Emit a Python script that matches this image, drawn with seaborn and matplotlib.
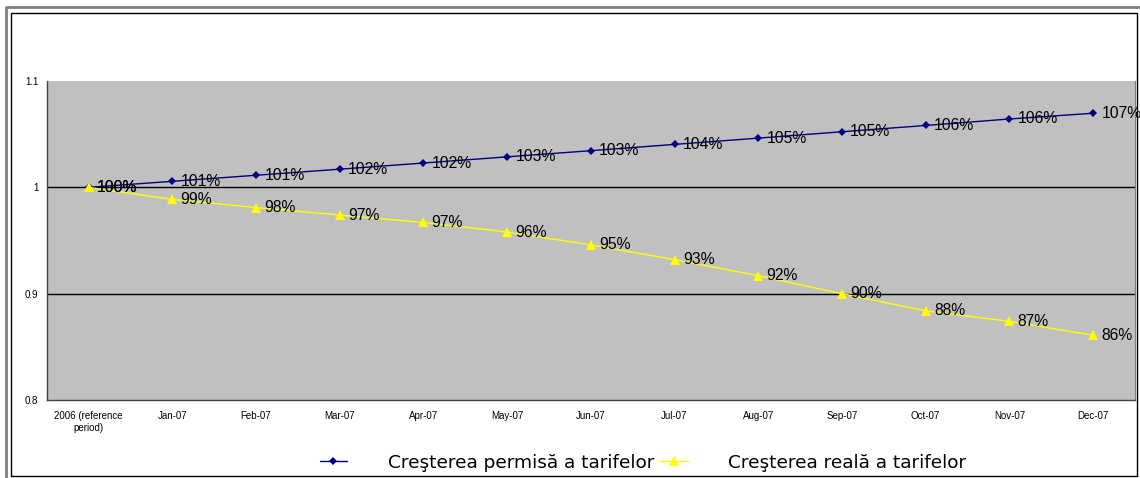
import matplotlib
matplotlib.use('Agg')
import matplotlib.pyplot as plt
import numpy as np
import pandas as pd
import seaborn as sns
from matplotlib.patches import Rectangle
from matplotlib.lines import Line2D

months = ['2006 (reference\nperiod)', 'Jan-07', 'Feb-07', 'Mar-07', 'Apr-07', 'May-07', 'Jun-07',
          'Jul-07', 'Aug-07', 'Sep-07', 'Oct-07', 'Nov-07', 'Dec-07']
permisa = [1.0, 1.0057, 1.0114, 1.0171, 1.0229, 1.0287, 1.0345, 1.0404, 1.0463, 1.0523, 1.0582, 1.0643, 1.0697]
reala = [1.0, 0.9887, 0.981, 0.974, 0.967, 0.958, 0.946, 0.932, 0.917, 0.900, 0.884, 0.874, 0.861]
name_p = 'Creşterea permisă a tarifelor'
name_r = 'Creşterea reală a tarifelor'

df = pd.concat([
    pd.DataFrame({'pos': range(len(months)), 'val': permisa, 'serie': name_p}),
    pd.DataFrame({'pos': range(len(months)), 'val': reala, 'serie': name_r}),
])

sns.set_style('white')
plt.rcParams['font.family'] = ['Liberation Sans', 'DejaVu Sans']
plt.rcParams['text.color'] = 'black'
plt.rcParams['xtick.color'] = 'black'
plt.rcParams['ytick.color'] = 'black'

fig = plt.figure(figsize=(11.4, 4.78), dpi=100)
ax = fig.add_axes([0.041, 0.163, 0.9545, 0.6675])
ax.set_facecolor('#C0C0C0')

sns.lineplot(data=df, x='pos', y='val', hue='serie', style='serie',
             palette={name_p: '#000080', name_r: '#FFFF00'},
             markers={name_p: 'D', name_r: '^'}, dashes=False,
             markersize=5, markeredgewidth=0, linewidth=1, ax=ax, zorder=3)
# triangles a bit bigger than the diamonds
for ln in ax.lines:
    if ln.get_marker() == '^':
        ln.set_markersize(7)
    elif ln.get_marker() == 'D':
        ln.set_markersize(4.5)

# data labels
for i, v in enumerate(permisa):
    ax.annotate(f'{v:.0%}', (i, v), xytext=(6, 0), textcoords='offset points',
                va='center', ha='left', fontsize=11.3, zorder=4)
for i, v in enumerate(reala):
    ax.annotate(f'{v:.0%}', (i, v), xytext=(6, 0), textcoords='offset points',
                va='center', ha='left', fontsize=11.3, zorder=4)

ax.set_ylim(0.8, 1.1)
ax.set_yticks([0.8, 0.9, 1.0, 1.1])
ax.set_yticklabels(['0.8', '0.9', '1', '1.1'], fontsize=7)
for y in [0.9, 1.0]:
    ax.axhline(y, color='black', linewidth=1, zorder=2)

ax.set_xlim(-0.5, len(months) - 0.5)
ax.set_xticks(range(len(months)))
ax.set_xticklabels(months, fontsize=7)
ax.set_xticks(np.arange(0.5, len(months) - 0.5, 1), minor=True)
ax.tick_params(axis='x', which='major', length=0, pad=8)
ax.tick_params(axis='x', which='minor', length=4, direction='out', color='black', width=0.8)
ax.tick_params(axis='y', which='major', length=4, direction='out', color='black', width=0.8, pad=2)
ax.set_xlabel('')
ax.set_ylabel('')

for side in ['left', 'bottom']:
    ax.spines[side].set_color('#404040')
    ax.spines[side].set_linewidth(1)
ax.spines['top'].set_visible(False)
ax.spines['right'].set_color('#808080')

leg = ax.legend(loc='center', bbox_to_anchor=(0.564, 0.032), bbox_transform=fig.transFigure,
                ncol=2, frameon=False, handlelength=1.5, handletextpad=2.2, columnspacing=0.3,
                prop={'family': 'DejaVu Sans', 'size': 13.3})

# double frame around the chart
fig.lines.append(Line2D([0.0053, 0.0053, 1.0], [0.0, 0.9854, 0.9854], transform=fig.transFigure,
                        color='#808080', linewidth=2))
fig.patches.append(Rectangle((0.0096, 0.004), 0.9878, 0.9688, transform=fig.transFigure,
                             fill=False, edgecolor='black', linewidth=1))

fig.savefig('out.png', dpi=100)
